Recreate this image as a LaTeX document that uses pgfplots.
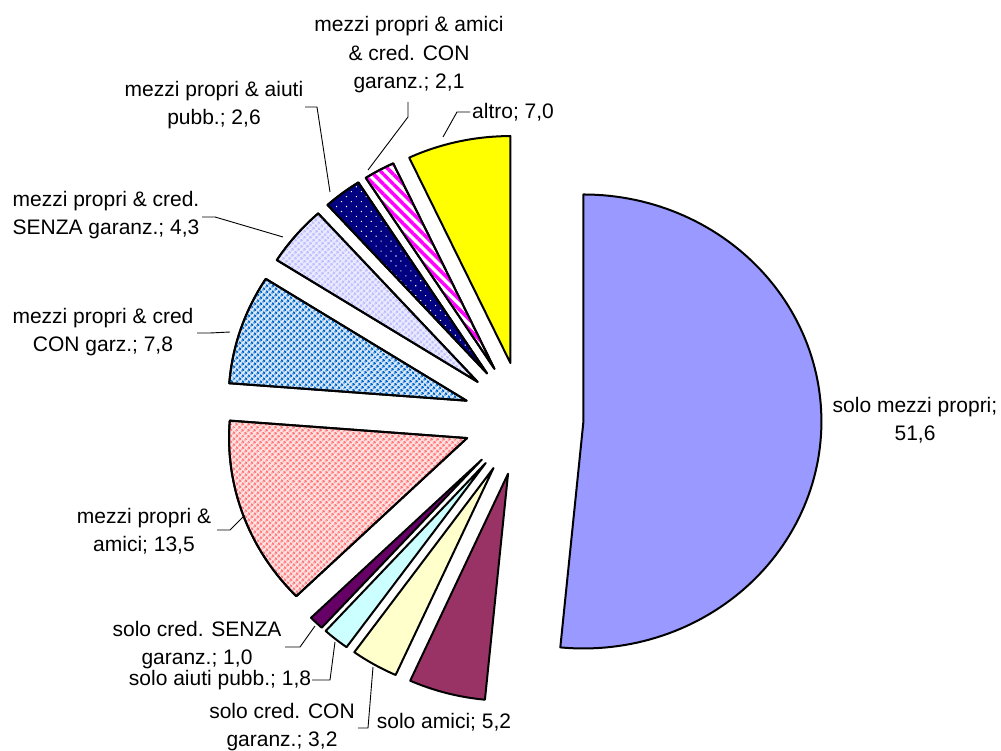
\documentclass[border=0pt]{standalone}
\usepackage{fontspec}
\setmainfont{Liberation Sans}
\usepackage{pgfplots}
\pgfplotsset{compat=1.18}
\usetikzlibrary{patterns.meta}

\definecolor{cPeri}{HTML}{9999FF}
\definecolor{cPlum}{HTML}{993366}
\definecolor{cIvory}{HTML}{FFFFCC}
\definecolor{cIce}{HTML}{CCFFFF}
\definecolor{cGrape}{HTML}{660066}
\definecolor{cCoral}{HTML}{FF7A7A}
\definecolor{cOcean}{HTML}{0066CC}
\definecolor{cLilac}{HTML}{BDBDFF}
\definecolor{cNavy}{HTML}{000080}
\definecolor{cFuchsia}{HTML}{FF00FF}
\definecolor{cSun}{HTML}{FFFF00}

\newcommand\labelfont{\fontsize{21}{28.5}\selectfont}

% pie geometry (axis units)
\def\cx{523.5}\def\cy{418.7}   % centre
\def\rx{238}\def\ry{227}       % radii
\def\ex{60}\def\ey{57}         % explosion offset
\def\total{100.1}              % sum of all shares
\gdef\cumsum{0}

% one exploded slice, clockwise from 12 o'clock: #1 = share, #2 = style
\newcommand\pieslice[2]{%
  \pgfmathsetmacro\aS{90-\cumsum/\total*360}%
  \pgfmathsetmacro\cumnew{\cumsum+#1}%
  \xdef\cumsum{\cumnew}%
  \pgfmathsetmacro\aE{90-\cumsum/\total*360}%
  \pgfmathsetmacro\aM{(\aS+\aE)/2}%
  \pgfmathsetmacro\vx{\cx+\ex*cos(\aM)}%
  \pgfmathsetmacro\vy{\cy-\ey*sin(\aM)}%
  \edef\slicecmd{\noexpand\addplot[#2, draw=black, line width=2pt,
      line join=round, mark=none, domain=\aE:\aS, samples=120,
      variable=\noexpand\t]
    ({\vx+\rx*cos(\noexpand\t)}, {\vy-\ry*sin(\noexpand\t)})
    -- (axis cs:\vx,\vy) -- cycle;}%
  \slicecmd}

\begin{document}
\begin{tikzpicture}
\begin{axis}[
  scale only axis, width=1001pt, height=751pt,
  xmin=0, xmax=1001, ymin=0, ymax=751, y dir=reverse,
  hide axis, clip=false]

\pieslice{51.6}{fill=cPeri}
\pieslice{5.2}{fill=cPlum}
\pieslice{3.2}{fill=cIvory}
\pieslice{1.8}{fill=cIce}
\pieslice{1.0}{fill=cGrape}
\pieslice{13.5}{fill=cCoral!22!white, postaction={pattern={Dots[distance=4pt, radius=1.5pt, angle=45]}, pattern color=cCoral}}
\pieslice{7.8}{fill=cOcean!15!white, postaction={pattern={Dots[distance=4pt, radius=1.5pt, angle=45]}, pattern color=cOcean}}
\pieslice{4.3}{fill=cLilac!30!white, postaction={pattern={Dots[distance=4pt, radius=1.5pt, angle=45]}, pattern color=cLilac}}
\pieslice{2.6}{fill=cNavy, postaction={pattern={Dots[distance=7pt, radius=0.8pt, angle=45]}, pattern color=white}}
\pieslice{2.1}{fill=white, postaction={pattern={Lines[angle=-45, distance=7pt, line width=3.5pt]}, pattern color=cFuchsia}}
\pieslice{7.0}{fill=cSun}

% leader lines
\begin{scope}[line width=0.9pt]
\draw (axis cs:408,102) -- (axis cs:408,117) -- (axis cs:368,170);
\draw (axis cs:305,107) -- (axis cs:317,107) -- (axis cs:330,192);
\draw (axis cs:470,112) -- (axis cs:457,112) -- (axis cs:443,137);
\draw (axis cs:202,217) -- (axis cs:215,217) -- (axis cs:283,237);
\draw (axis cs:197,333) -- (axis cs:210,333) -- (axis cs:230,332);
\draw (axis cs:217,530) -- (axis cs:230,530) -- (axis cs:243,517);
\draw (axis cs:285,647) -- (axis cs:300,647) -- (axis cs:315,626);
\draw (axis cs:312,680) -- (axis cs:330,680) -- (axis cs:335,642);
\draw (axis cs:358,728) -- (axis cs:368,728) -- (axis cs:373,667);
\end{scope}

% slice labels
\begin{scope}[every node/.style={align=center, font=\labelfont, inner sep=0pt}]
\node at (axis cs:915,420) {solo mezzi propri;\\51,6};
\node at (axis cs:409,55) {mezzi propri \& amici\\\& cred. CON\\garanz.; 2,1};
\node at (axis cs:214,105) {mezzi propri \& aiuti\\pubb.; 2,6};
\node[anchor=west] at (axis cs:472,112) {altro; 7,0};
\node at (axis cs:106,215) {mezzi propri \& cred.\\SENZA garanz.; 4,3};
\node at (axis cs:103,332) {mezzi propri \& cred\\CON garz.; 7,8};
\node at (axis cs:144,531) {mezzi propri \&\\amici; 13,5};
\node at (axis cs:197,645) {solo cred. SENZA\\garanz.; 1,0};
\node at (axis cs:220,680) {solo aiuti pubb.; 1,8};
\node at (axis cs:282,727) {solo cred. CON\\garanz.; 3,2};
\node at (axis cs:444,722) {solo amici; 5,2};
\end{scope}
\end{axis}
\pgfresetboundingbox
\useasboundingbox (0,0) rectangle (1001pt,751pt);
\end{tikzpicture}
\end{document}
